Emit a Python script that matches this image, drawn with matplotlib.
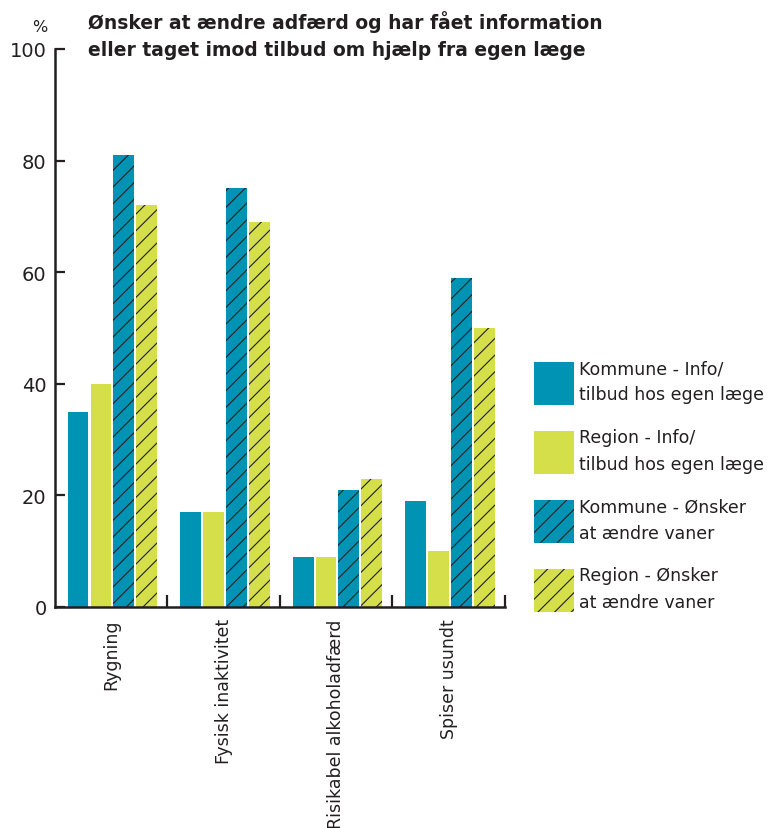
import numpy as np
import matplotlib
matplotlib.use("Agg")
import matplotlib.pyplot as plt
from matplotlib.patches import Patch

# data
categories = ["Rygning", "Fysisk inaktivitet", "Risikabel alkoholadfærd", "Spiser usundt"]
series_labels = [
    "Kommune - Info/\ntilbud hos egen læge",
    "Region - Info/\ntilbud hos egen læge",
    "Kommune - Ønsker\nat ændre vaner",
    "Region - Ønsker\nat ændre vaner",
]
kommune_info = [35, 17, 9, 19]
region_info = [40, 17, 9, 10]
kommune_vaner = [81, 75, 21, 59]
region_vaner = [72, 69, 23, 50]
yticks = [0, 20, 40, 60, 80, 100]

teal = "#0093b4"
lime = "#d4df4a"
dark = "#231f20"

plt.rcParams["font.family"] = ["DejaVu Sans"]
plt.rcParams["hatch.linewidth"] = 0.8

fig = plt.figure(figsize=(7.71, 8.29), dpi=100)
ax = fig.add_axes([0.0713, 0.2666, 0.5837, 0.6731])

x = np.arange(len(categories)) + 0.51
w = 0.185
step = 0.203
series = [kommune_info, region_info, kommune_vaner, region_vaner]
colors = [teal, lime, teal, lime]
hatches = [None, None, "//", "//"]
for i, vals in enumerate(series):
    off = (i - 1.5) * step
    ax.bar(x + off, vals, w, color=colors[i], hatch=hatches[i],
           edgecolor=dark, linewidth=0)

ax.set_xlim(0, 4)
ax.set_ylim(0, 100)
ax.set_yticks(yticks)
ax.set_yticklabels([str(v) for v in yticks], fontsize=14, color=dark)
ax.set_xticks([1, 2, 3, 4])
ax.set_xticklabels([])
ax.tick_params(axis="y", direction="in", length=7, width=1.6, color=dark, pad=6)
ax.tick_params(axis="x", direction="in", length=9, width=1.6, color=dark)
for s in ["top", "right"]:
    ax.spines[s].set_visible(False)
for s in ["left", "bottom"]:
    ax.spines[s].set_linewidth(1.8)
    ax.spines[s].set_color(dark)

for xi, lab in zip(np.arange(len(categories)) + 0.5, categories):
    ax.text(xi, -2, lab, rotation=90, ha="center", va="top", fontsize=12.5,
            color=dark, clip_on=False)

fig.text(0.052, 0.967, "%", fontsize=11.5, color=dark, ha="center", va="center")
fig.text(0.114, 0.973, "Ønsker at ændre adfærd og har fået information",
         fontsize=13.5, fontweight="bold", color=dark, va="center")
fig.text(0.114, 0.939, "eller taget imod tilbud om hjælp fra egen læge",
         fontsize=13.5, fontweight="bold", color=dark, va="center")

handles = [Patch(facecolor=colors[i], hatch=hatches[i], edgecolor=dark, linewidth=0)
           for i in range(4)]
leg = fig.legend(handles, series_labels, loc="upper left", bbox_to_anchor=(0.684, 0.574),
                 frameon=False, fontsize=12.5, handlelength=2.3, handleheight=3.4,
                 labelspacing=1.35, handletextpad=0.3, borderaxespad=0)
for t in leg.get_texts():
    t.set_linespacing(1.6)
    t.set_color(dark)

fig.savefig("out.png", dpi=100)
